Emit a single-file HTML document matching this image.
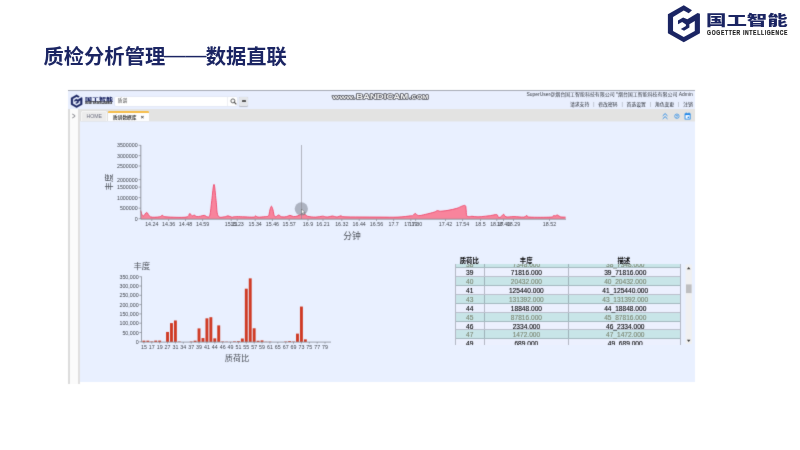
<!DOCTYPE html>
<html lang="zh">
<head>
<meta charset="utf-8">
<title>质检分析管理——数据直联</title>
<style>
html,body{margin:0;padding:0}
body{width:800px;height:450px;position:relative;overflow:hidden;background:#fff;font-family:"Liberation Sans","Noto Sans CJK SC",sans-serif;color:#222}
.abs{position:absolute}
.soft{filter:url(#bl)}
#title{left:43.5px;top:41.6px;font-size:20.3px;font-weight:bold;color:#1b2563;white-space:nowrap;line-height:30px;letter-spacing:0px}
#logo-cn{left:706.0px;top:8.1px;font-size:13.6px;line-height:26px;font-weight:900;color:#1b2563;white-space:nowrap;transform-origin:0 50%;transform:scaleX(1.5)}
#app{left:68px;top:90px;width:627px;height:294px;background:#fff;overflow:hidden}
#app .content{left:12px;top:31px;width:615px;height:261px;background:#e9f0ff;border-top:1px solid #e6eaf2;box-sizing:border-box}
#app .hdr{left:0;top:0;width:627px;height:19px;background:#e9effe;border-top:1px solid #a6aab4;box-sizing:border-box}
#app .tabs{left:0;top:19px;width:627px;height:12px;background:#e3e3e2}
#app .side{left:0;top:19px;width:12px;height:275px;background:linear-gradient(to right,#dcdcdc 0,#dcdcdc 1.6px,#fbfbfb 1.6px,#fbfbfb 10px,#e0dfdf 10px,#e0dfdf 12px)}

.s-cn{left:16.5px;top:5.0px;font-size:4.2px;line-height:9px;font-weight:900;color:#1b2563;white-space:nowrap;transform-origin:0 50%;transform:scaleX(1.68)}
.s-en{left:16.6px;top:12.4px;font-size:2.7px;line-height:3px;font-weight:bold;color:#333;white-space:nowrap;transform-origin:0 50%;transform:scaleX(0.76);text-shadow:0 0 0.3px #666}
.search{left:47px;top:6.8px;width:122px;height:9.2px;background:#fff;border-radius:1px;box-shadow:0 0 0 0.5px #dfe3ee}
.search span{position:absolute;left:2.8px;top:1.7px;font-size:4.8px;line-height:6px;color:#444}
.sbtn{left:171.3px;top:6.5px;width:9px;height:9px;background:#e4e6ea;border-radius:1.2px;box-shadow:0 0.6px 0.8px #b8bcc6}
.sbtn i{position:absolute;left:2.4px;top:3.5px;width:4.4px;height:1.7px;background:#555;border-radius:0.5px}
.u1,.u2{right:2.2px;font-size:4.96px;line-height:8px;color:#363a42;white-space:nowrap;text-align:right}
.u1{top:1.0px}
.u2{top:10.5px;color:#262a32;font-size:4.82px}
.u2 b{font-weight:normal;color:#8a8e98;margin:0 3.9px}
.arrow{left:3.0px;top:21.2px;font-size:9.5px;line-height:9px;font-weight:bold;color:#8c8c92;font-family:"Liberation Sans",sans-serif;transform:scaleX(0.62)}
.tab1{left:13.4px;top:21.2px;width:25.8px;height:10.2px;background:#ececec;border:0.6px solid #f6f6f6;border-bottom:none;border-radius:1.2px 1.2px 0 0;box-sizing:border-box;font-size:5.2px;line-height:8.6px;text-align:center;color:#6e7080;box-shadow:0 0 0.8px #bbb}
.tab2{left:40px;top:20.6px;width:40.6px;height:10.8px;background:#fefefe;border-top:2.1px solid #f6bd48;border-radius:1.2px 1.2px 0 0;box-sizing:border-box;font-size:4.7px;line-height:9.6px;color:#222;font-weight:500;white-space:nowrap}
.tab2 span{position:absolute;left:5px;top:0.6px}
.tab2 em{position:absolute;left:32.8px;top:0.4px;font-style:normal;font-weight:bold;font-size:5.6px;color:#333}
svg text{font-family:"Liberation Sans","Noto Sans CJK SC",sans-serif}
.tk{font-size:5.3px;fill:#41454d}
.ax{font-size:8.4px;fill:#4c5058}
#tbl{left:454.6px;top:264.2px;width:226.6px;height:80.8px;overflow:hidden;border-left:1px solid rgba(100,104,116,0.42);border-right:1px solid rgba(100,104,116,0.42);box-sizing:border-box;background:#ecf0fe}
#tbl .inner{position:absolute;left:0;top:-4.6px;width:100%}
.tr{position:relative;height:8.86px;line-height:10.4px;font-size:6.6px;color:#000;-webkit-text-stroke:0.1px currentColor;border-bottom:1px solid rgba(100,108,120,0.36);box-sizing:border-box;white-space:nowrap}
.tr.alt{background:#c8e5e8;color:#79836f}
.tr span{position:absolute;top:0;text-align:center;height:100%;z-index:1}
.c1{left:0;width:29.4px;border-right:1px solid rgba(100,104,116,0.42);box-sizing:border-box}
.c2{left:29.4px;width:83.8px;border-right:1px solid rgba(100,104,116,0.42);box-sizing:border-box}
.c3{left:113.2px;width:113px}
.th{font-size:6.4px;font-weight:bold;color:#000;line-height:9px;white-space:nowrap;transform:translateX(-50%)}
.sb{left:685.4px;top:264.3px;width:6.6px;height:79.8px;background:#f0f0f1}
.sb .thumb{position:absolute;left:0.5px;top:20.1px;width:5.7px;height:8.7px;background:#bebec0}
.sb .up,.sb .dn{position:absolute;left:1.4px;width:0;height:0;border-left:1.9px solid transparent;border-right:1.9px solid transparent}
.sb .up{top:2.6px;border-bottom:2.3px solid #3c3c3c}
.sb .dn{bottom:2.3px;border-top:2.3px solid #3c3c3c}
</style>
</head>
<body>
<svg width="0" height="0" style="position:absolute"><filter id="bl" x="0" y="0" width="100%" height="100%" color-interpolation-filters="sRGB"><feConvolveMatrix order="3" kernelMatrix="1 4 1 4 34 4 1 4 1" divisor="54" edgeMode="duplicate" preserveAlpha="true"/></filter></svg>
<div id="title" class="abs">质检分析管理<span style="display:inline-block;position:relative;top:-1.0px;transform:scale(1.05,0.72)">——</span>数据直联</div>

<svg class="abs" style="left:0;top:0" width="800" height="50" viewBox="0 0 800 50"><path d="M683.77,5.27 L691.99,10.22 L688.72,13.21 L683.77,10.59 L673.04,16.94 L673.04,30.95 L683.77,37.02 L694.79,30.95 L694.79,20.96 L689.38,24.22 L689.38,27.40 L684.05,30.76 L680.79,28.89 L685.92,26.09 L685.92,24.41 L682.19,22.08 L677.98,24.22 L677.98,20.40 L683.12,17.41 L687.32,19.28 L697.59,13.02 L699.93,13.67 L699.93,33.28 L683.77,42.15 L667.90,33.28 L667.90,14.14Z" fill="#1b2563"/></svg>
<div id="logo-cn" class="abs">国工智能</div>
<svg class="abs" style="left:700px;top:26px" width="100" height="14" viewBox="0 0 100 14"><text x="7.1" y="8.7" textLength="81" lengthAdjust="spacingAndGlyphs" style="font-size:6.6px;font-weight:bold;fill:#1a1a1a;stroke:#1a1a1a;stroke-width:0.22px;letter-spacing:0.9px">GOGETTER INTELLIGENCE</text></svg>

<div id="soft" class="abs soft" style="left:0;top:84px;width:800px;height:310px;overflow:hidden;background:#fff"><div style="position:absolute;left:0;top:-84px;width:800px;height:450px">
<div id="app" class="abs">
  <div class="hdr abs"></div>
  <div class="tabs abs"></div>
  <div class="content abs"></div>
  <div class="side abs"></div>
  <svg class="abs" style="left:0;top:0" width="60" height="20" viewBox="0 0 60 20"><path d="M8.57,4.80 L11.43,6.52 L10.30,7.56 L8.57,6.65 L4.84,8.86 L4.84,13.74 L8.57,15.85 L12.41,13.74 L12.41,10.26 L10.53,11.40 L10.53,12.50 L8.67,13.67 L7.54,13.02 L9.32,12.05 L9.32,11.46 L8.02,10.65 L6.56,11.40 L6.56,10.07 L8.35,9.03 L9.81,9.68 L13.39,7.50 L14.20,7.72 L14.20,14.55 L8.57,17.64 L3.05,14.55 L3.05,7.89Z" fill="#1b2563" stroke="#1b2563" stroke-width="0.35" stroke-linejoin="round"/></svg>
  <div class="s-cn abs">国工智能</div>
  <div class="s-en abs">GOGETTER INTELLIGENCE</div>
  <div class="search abs"><span>质谱</span>
    <svg class="abs" style="left:114.6px;top:1.1px" width="7" height="7" viewBox="0 0 7 7"><circle cx="2.9" cy="2.9" r="2.0" fill="none" stroke="#555" stroke-width="0.9"/><path d="M4.2,4.2 L6,6" stroke="#555" stroke-width="1.1" stroke-linecap="round"/></svg>
    <i class="abs" style="left:112.4px;top:0;width:0.5px;height:9.2px;background:#eef0f4"></i>
  </div>
  <div class="sbtn abs"><i></i></div>
  <div class="u1 abs">SuperUser@烟台国工智能科技有限公司 *烟台国工智能科技有限公司 Admin</div>
  <div class="u2 abs">请求支持<b>|</b>修改密码<b>|</b>首选设置<b>|</b>角色变更<b>|</b>注销</div>
  <div class="arrow abs">&gt;</div>
  <div class="tab1 abs">HOME</div>
  <div class="tab2 abs"><span>质谱数据库</span><em>×</em></div>
  <svg class="abs" style="left:590px;top:20px" width="36" height="12" viewBox="0 0 36 12">
    <path d="M5,5.6 L7.1,3.6 L9.2,5.6 M5,8.6 L7.1,6.6 L9.2,8.6" fill="none" stroke="#1f86e8" stroke-width="0.9" stroke-linecap="round" stroke-linejoin="round"/>
    <circle cx="18.9" cy="6.2" r="2.2" fill="none" stroke="#1f86e8" stroke-width="0.7"/>
    <text x="18.9" y="7.6" text-anchor="middle" style="font-size:3.6px;font-weight:bold;fill:#1f86e8">?</text>
    <rect x="26.6" y="3.2" width="6" height="6.4" rx="0.7" fill="#1f86e8"/>
    <rect x="27.5" y="5.1" width="4.2" height="3.6" fill="#fff"/>
    <rect x="29.6" y="6.6" width="1.5" height="1.5" fill="#1f86e8"/>
    <rect x="27.8" y="2.5" width="0.8" height="1.4" fill="#1f86e8"/><rect x="30.6" y="2.5" width="0.8" height="1.4" fill="#1f86e8"/>
  </svg>
</div>

<svg class="abs" style="left:0;top:0" width="800" height="110" viewBox="0 0 800 110">
<g font-weight="bold" fill="#fdfdfd" stroke="#50525a" stroke-width="1.3" stroke-linejoin="round" paint-order="stroke" style="font-family:'Liberation Sans',sans-serif">
<text x="332.6" y="98.7" textLength="22.6" lengthAdjust="spacingAndGlyphs" font-size="6.2">www.</text>
<text x="356.2" y="98.7" textLength="52" lengthAdjust="spacingAndGlyphs" font-size="6.6">BANDICAM</text>
<text x="409.4" y="98.7" textLength="19" lengthAdjust="spacingAndGlyphs" font-size="5.2">.COM</text>
</g></svg>
<svg class="abs" style="left:0;top:0" width="800" height="450" viewBox="0 0 800 450">
<g id="chart-top">
<path d="M140.75,210.60 C141.16,211.61 141.92,215.86 143.00,216.20 C144.08,216.54 145.40,212.38 146.75,212.50 C148.10,212.62 148.25,216.07 150.50,216.85 C152.75,217.63 157.11,217.12 159.25,216.85 C161.39,216.58 161.19,215.35 162.40,215.35 C163.62,215.35 161.75,216.53 166.00,216.85 C170.25,217.16 181.77,217.67 186.00,217.10 C190.23,216.53 188.35,213.92 189.50,213.70 C190.65,213.47 191.55,215.60 192.40,215.85 C193.25,216.10 193.47,214.97 194.25,215.10 C195.03,215.23 195.62,216.40 196.75,216.60 C197.88,216.80 199.15,216.42 200.50,216.20 C201.85,215.97 203.01,215.23 204.25,215.35 C205.49,215.47 206.38,216.91 207.40,216.85 C208.42,216.79 209.12,217.93 209.90,215.00 C210.68,212.07 211.01,206.12 211.75,200.60 C212.49,195.08 213.22,184.35 214.00,184.35 C214.78,184.35 215.38,194.97 216.10,200.60 C216.82,206.22 216.53,212.67 218.00,215.60 C219.47,218.53 222.45,216.81 224.25,216.85 C226.05,216.89 226.65,215.81 228.00,215.85 C229.35,215.89 230.18,216.97 231.75,217.10 C233.32,217.23 232.93,216.60 236.75,216.60 C240.57,216.60 249.62,217.23 253.00,217.10 C256.38,216.97 254.60,215.85 255.50,215.85 C256.40,215.85 256.20,216.97 258.00,217.10 C259.80,217.23 263.59,216.87 265.50,216.60 C267.41,216.33 267.81,216.79 268.60,215.60 C269.39,214.41 269.40,211.69 269.90,210.00 C270.40,208.31 270.84,206.20 271.40,206.20 C271.96,206.20 272.49,208.31 273.00,210.00 C273.51,211.69 273.69,214.41 274.25,215.60 C274.81,216.79 275.32,216.71 276.10,216.60 C276.88,216.49 277.58,214.96 278.60,215.00 C279.62,215.04 280.28,216.56 281.75,216.85 C283.22,217.14 285.28,216.87 286.75,216.60 C288.22,216.33 288.67,215.35 289.90,215.35 C291.13,215.35 292.14,216.51 293.60,216.60 C295.06,216.69 296.65,216.30 298.00,215.85 C299.35,215.40 300.20,214.32 301.10,214.10 C302.00,213.88 302.32,214.60 303.00,214.60 C303.68,214.60 304.11,213.81 304.90,214.10 C305.69,214.39 305.49,215.66 307.40,216.20 C309.31,216.74 312.80,217.10 315.50,217.10 C318.20,217.10 320.51,216.24 322.40,216.20 C324.29,216.16 324.81,216.79 326.00,216.90 C327.19,217.01 327.85,216.96 329.00,216.80 C330.15,216.64 331.14,215.98 332.40,216.00 C333.66,216.02 334.99,216.76 336.00,216.90 C337.01,217.04 337.10,216.99 338.00,216.80 C338.90,216.61 339.92,215.85 341.00,215.85 C342.08,215.85 340.58,216.59 344.00,216.80 C347.42,217.01 353.52,216.95 360.00,217.00 C366.48,217.05 373.16,217.08 380.00,217.10 C386.84,217.12 392.51,217.32 398.00,217.10 C403.49,216.88 407.80,216.16 410.50,215.85 C413.20,215.54 412.14,215.82 413.00,215.40 C413.86,214.98 414.24,213.46 415.25,213.50 C416.26,213.54 416.75,215.45 418.60,215.60 C420.45,215.75 422.68,214.98 425.50,214.35 C428.32,213.72 432.11,212.78 434.25,212.10 C436.39,211.42 436.27,210.76 437.40,210.60 C438.52,210.44 438.59,211.24 440.50,211.20 C442.41,211.16 445.07,210.86 448.00,210.35 C450.93,209.84 454.27,209.10 456.75,208.35 C459.23,207.60 460.22,206.69 461.75,206.20 C463.28,205.70 464.47,205.03 465.25,205.60 C466.03,206.17 465.83,207.55 466.10,209.35 C466.37,211.15 466.18,214.29 466.75,215.60 C467.32,216.91 468.31,216.47 469.25,216.60 C470.19,216.73 470.43,216.25 472.00,216.30 C473.57,216.34 475.57,216.87 478.00,216.85 C480.43,216.83 483.25,216.42 485.50,216.20 C487.75,215.97 488.48,215.89 490.50,215.60 C492.52,215.31 495.40,214.38 496.75,214.60 C498.10,214.82 497.32,216.40 498.00,216.85 C498.68,217.30 499.49,217.55 500.50,217.10 C501.51,216.65 502.59,214.39 503.60,214.35 C504.61,214.31 504.23,216.44 506.10,216.85 C507.97,217.25 510.85,216.56 514.00,216.60 C517.15,216.64 521.31,217.28 523.60,217.10 C525.89,216.92 525.62,215.60 526.75,215.60 C527.88,215.60 525.62,216.83 529.90,217.10 C534.17,217.37 546.23,217.37 550.50,217.10 C554.77,216.83 552.70,215.83 553.60,215.60 C554.50,215.37 554.82,215.91 555.50,215.80 C556.18,215.69 556.50,214.81 557.40,215.00 C558.30,215.19 559.04,216.47 560.50,216.85 C561.96,217.23 564.60,217.06 565.50,217.10 L565.50,219.00 L140.75,219.00 Z" fill="#f8849c"/>
<path d="M140.75,210.60 C141.16,211.61 141.92,215.86 143.00,216.20 C144.08,216.54 145.40,212.38 146.75,212.50 C148.10,212.62 148.25,216.07 150.50,216.85 C152.75,217.63 157.11,217.12 159.25,216.85 C161.39,216.58 161.19,215.35 162.40,215.35 C163.62,215.35 161.75,216.53 166.00,216.85 C170.25,217.16 181.77,217.67 186.00,217.10 C190.23,216.53 188.35,213.92 189.50,213.70 C190.65,213.47 191.55,215.60 192.40,215.85 C193.25,216.10 193.47,214.97 194.25,215.10 C195.03,215.23 195.62,216.40 196.75,216.60 C197.88,216.80 199.15,216.42 200.50,216.20 C201.85,215.97 203.01,215.23 204.25,215.35 C205.49,215.47 206.38,216.91 207.40,216.85 C208.42,216.79 209.12,217.93 209.90,215.00 C210.68,212.07 211.01,206.12 211.75,200.60 C212.49,195.08 213.22,184.35 214.00,184.35 C214.78,184.35 215.38,194.97 216.10,200.60 C216.82,206.22 216.53,212.67 218.00,215.60 C219.47,218.53 222.45,216.81 224.25,216.85 C226.05,216.89 226.65,215.81 228.00,215.85 C229.35,215.89 230.18,216.97 231.75,217.10 C233.32,217.23 232.93,216.60 236.75,216.60 C240.57,216.60 249.62,217.23 253.00,217.10 C256.38,216.97 254.60,215.85 255.50,215.85 C256.40,215.85 256.20,216.97 258.00,217.10 C259.80,217.23 263.59,216.87 265.50,216.60 C267.41,216.33 267.81,216.79 268.60,215.60 C269.39,214.41 269.40,211.69 269.90,210.00 C270.40,208.31 270.84,206.20 271.40,206.20 C271.96,206.20 272.49,208.31 273.00,210.00 C273.51,211.69 273.69,214.41 274.25,215.60 C274.81,216.79 275.32,216.71 276.10,216.60 C276.88,216.49 277.58,214.96 278.60,215.00 C279.62,215.04 280.28,216.56 281.75,216.85 C283.22,217.14 285.28,216.87 286.75,216.60 C288.22,216.33 288.67,215.35 289.90,215.35 C291.13,215.35 292.14,216.51 293.60,216.60 C295.06,216.69 296.65,216.30 298.00,215.85 C299.35,215.40 300.20,214.32 301.10,214.10 C302.00,213.88 302.32,214.60 303.00,214.60 C303.68,214.60 304.11,213.81 304.90,214.10 C305.69,214.39 305.49,215.66 307.40,216.20 C309.31,216.74 312.80,217.10 315.50,217.10 C318.20,217.10 320.51,216.24 322.40,216.20 C324.29,216.16 324.81,216.79 326.00,216.90 C327.19,217.01 327.85,216.96 329.00,216.80 C330.15,216.64 331.14,215.98 332.40,216.00 C333.66,216.02 334.99,216.76 336.00,216.90 C337.01,217.04 337.10,216.99 338.00,216.80 C338.90,216.61 339.92,215.85 341.00,215.85 C342.08,215.85 340.58,216.59 344.00,216.80 C347.42,217.01 353.52,216.95 360.00,217.00 C366.48,217.05 373.16,217.08 380.00,217.10 C386.84,217.12 392.51,217.32 398.00,217.10 C403.49,216.88 407.80,216.16 410.50,215.85 C413.20,215.54 412.14,215.82 413.00,215.40 C413.86,214.98 414.24,213.46 415.25,213.50 C416.26,213.54 416.75,215.45 418.60,215.60 C420.45,215.75 422.68,214.98 425.50,214.35 C428.32,213.72 432.11,212.78 434.25,212.10 C436.39,211.42 436.27,210.76 437.40,210.60 C438.52,210.44 438.59,211.24 440.50,211.20 C442.41,211.16 445.07,210.86 448.00,210.35 C450.93,209.84 454.27,209.10 456.75,208.35 C459.23,207.60 460.22,206.69 461.75,206.20 C463.28,205.70 464.47,205.03 465.25,205.60 C466.03,206.17 465.83,207.55 466.10,209.35 C466.37,211.15 466.18,214.29 466.75,215.60 C467.32,216.91 468.31,216.47 469.25,216.60 C470.19,216.73 470.43,216.25 472.00,216.30 C473.57,216.34 475.57,216.87 478.00,216.85 C480.43,216.83 483.25,216.42 485.50,216.20 C487.75,215.97 488.48,215.89 490.50,215.60 C492.52,215.31 495.40,214.38 496.75,214.60 C498.10,214.82 497.32,216.40 498.00,216.85 C498.68,217.30 499.49,217.55 500.50,217.10 C501.51,216.65 502.59,214.39 503.60,214.35 C504.61,214.31 504.23,216.44 506.10,216.85 C507.97,217.25 510.85,216.56 514.00,216.60 C517.15,216.64 521.31,217.28 523.60,217.10 C525.89,216.92 525.62,215.60 526.75,215.60 C527.88,215.60 525.62,216.83 529.90,217.10 C534.17,217.37 546.23,217.37 550.50,217.10 C554.77,216.83 552.70,215.83 553.60,215.60 C554.50,215.37 554.82,215.91 555.50,215.80 C556.18,215.69 556.50,214.81 557.40,215.00 C558.30,215.19 559.04,216.47 560.50,216.85 C561.96,217.23 564.60,217.06 565.50,217.10" fill="none" stroke="#ee4a6c" stroke-width="0.9"/>
<path d="M140.8,145 V219.2 H566" fill="none" stroke="#7c8088" stroke-width="0.8"/>
<path d="M138.6,145.3 H140.8" stroke="#7c8088" stroke-width="0.6"/>
<text x="137.6" y="147.3" text-anchor="end" class="tk">3500000</text>
<path d="M138.6,155.6 H140.8" stroke="#7c8088" stroke-width="0.6"/>
<text x="137.6" y="157.6" text-anchor="end" class="tk">3000000</text>
<path d="M138.6,166.0 H140.8" stroke="#7c8088" stroke-width="0.6"/>
<text x="137.6" y="168.0" text-anchor="end" class="tk">2500000</text>
<path d="M138.6,179.6 H140.8" stroke="#7c8088" stroke-width="0.6"/>
<text x="137.6" y="181.6" text-anchor="end" class="tk">2000000</text>
<path d="M138.6,187.1 H140.8" stroke="#7c8088" stroke-width="0.6"/>
<text x="137.6" y="189.1" text-anchor="end" class="tk">1500000</text>
<path d="M138.6,197.6 H140.8" stroke="#7c8088" stroke-width="0.6"/>
<text x="137.6" y="199.6" text-anchor="end" class="tk">1000000</text>
<path d="M138.6,208.2 H140.8" stroke="#7c8088" stroke-width="0.6"/>
<text x="137.6" y="210.2" text-anchor="end" class="tk">500000</text>
<path d="M138.6,218.7 H140.8" stroke="#7c8088" stroke-width="0.6"/>
<text x="137.6" y="220.7" text-anchor="end" class="tk">0</text>
<path d="M151.8,219.2 V221" stroke="#7c8088" stroke-width="0.6"/>
<text x="151.8" y="226.2" text-anchor="middle" class="tk">14.24</text>
<path d="M168.6,219.2 V221" stroke="#7c8088" stroke-width="0.6"/>
<text x="168.6" y="226.2" text-anchor="middle" class="tk">14.36</text>
<path d="M185.5,219.2 V221" stroke="#7c8088" stroke-width="0.6"/>
<text x="185.5" y="226.2" text-anchor="middle" class="tk">14.48</text>
<path d="M202.6,219.2 V221" stroke="#7c8088" stroke-width="0.6"/>
<text x="202.6" y="226.2" text-anchor="middle" class="tk">14.59</text>
<path d="M231.2,219.2 V221" stroke="#7c8088" stroke-width="0.6"/>
<text x="231.2" y="226.2" text-anchor="middle" class="tk">15.11</text>
<path d="M237.2,219.2 V221" stroke="#7c8088" stroke-width="0.6"/>
<text x="237.2" y="226.2" text-anchor="middle" class="tk">15.23</text>
<path d="M255.2,219.2 V221" stroke="#7c8088" stroke-width="0.6"/>
<text x="255.2" y="226.2" text-anchor="middle" class="tk">15.34</text>
<path d="M272.4,219.2 V221" stroke="#7c8088" stroke-width="0.6"/>
<text x="272.4" y="226.2" text-anchor="middle" class="tk">15.46</text>
<path d="M289.2,219.2 V221" stroke="#7c8088" stroke-width="0.6"/>
<text x="289.2" y="226.2" text-anchor="middle" class="tk">15.57</text>
<path d="M308.0,219.2 V221" stroke="#7c8088" stroke-width="0.6"/>
<text x="308.0" y="226.2" text-anchor="middle" class="tk">16.9</text>
<path d="M323.0,219.2 V221" stroke="#7c8088" stroke-width="0.6"/>
<text x="323.0" y="226.2" text-anchor="middle" class="tk">16.21</text>
<path d="M341.8,219.2 V221" stroke="#7c8088" stroke-width="0.6"/>
<text x="341.8" y="226.2" text-anchor="middle" class="tk">16.32</text>
<path d="M359.2,219.2 V221" stroke="#7c8088" stroke-width="0.6"/>
<text x="359.2" y="226.2" text-anchor="middle" class="tk">16.44</text>
<path d="M376.5,219.2 V221" stroke="#7c8088" stroke-width="0.6"/>
<text x="376.5" y="226.2" text-anchor="middle" class="tk">16.56</text>
<path d="M393.6,219.2 V221" stroke="#7c8088" stroke-width="0.6"/>
<text x="393.6" y="226.2" text-anchor="middle" class="tk">17.7</text>
<path d="M410.8,219.2 V221" stroke="#7c8088" stroke-width="0.6"/>
<text x="410.8" y="226.2" text-anchor="middle" class="tk">17.19</text>
<path d="M415.6,219.2 V221" stroke="#7c8088" stroke-width="0.6"/>
<text x="415.6" y="226.2" text-anchor="middle" class="tk">17.30</text>
<path d="M445.5,219.2 V221" stroke="#7c8088" stroke-width="0.6"/>
<text x="445.5" y="226.2" text-anchor="middle" class="tk">17.42</text>
<path d="M462.6,219.2 V221" stroke="#7c8088" stroke-width="0.6"/>
<text x="462.6" y="226.2" text-anchor="middle" class="tk">17.54</text>
<path d="M480.5,219.2 V221" stroke="#7c8088" stroke-width="0.6"/>
<text x="480.5" y="226.2" text-anchor="middle" class="tk">18.5</text>
<path d="M496.8,219.2 V221" stroke="#7c8088" stroke-width="0.6"/>
<text x="496.8" y="226.2" text-anchor="middle" class="tk">18.17</text>
<path d="M503.5,219.2 V221" stroke="#7c8088" stroke-width="0.6"/>
<text x="503.5" y="226.2" text-anchor="middle" class="tk">18.40</text>
<path d="M513.5,219.2 V221" stroke="#7c8088" stroke-width="0.6"/>
<text x="513.5" y="226.2" text-anchor="middle" class="tk">18.29</text>
<path d="M549.5,219.2 V221" stroke="#7c8088" stroke-width="0.6"/>
<text x="549.5" y="226.2" text-anchor="middle" class="tk">18.52</text>
<text transform="translate(112.4,182) rotate(-90)" text-anchor="middle" class="ax">丰度</text>
<text x="352" y="238.7" text-anchor="middle" class="ax" style="font-size:8.8px">分钟</text>
<circle cx="301.3" cy="208.8" r="6.6" fill="#8c909e" fill-opacity="0.64"/>
<path d="M301.5,145 V219" stroke="#84848c" stroke-width="0.55"/>
<path d="M301.5,209.0 l0,5 l1.2,-1.1 l0.9,1.9 l0.8,-0.4 l-0.9,-1.8 l1.6,0 z" fill="#fff" stroke="#3a3a3a" stroke-width="0.4"/>
</g>
<g id="chart-bar">
<rect x="142.45" y="340.68" width="2.9" height="1.22" fill="#cf3a24"/>
<rect x="146.39" y="340.68" width="2.9" height="1.22" fill="#cf3a24"/>
<rect x="150.33" y="341.43" width="2.9" height="0.47" fill="#cf3a24"/>
<rect x="154.26" y="340.58" width="2.9" height="1.32" fill="#cf3a24"/>
<rect x="158.20" y="340.58" width="2.9" height="1.32" fill="#cf3a24"/>
<rect x="166.08" y="331.94" width="2.9" height="9.96" fill="#cf3a24"/>
<rect x="170.02" y="323.10" width="2.9" height="18.80" fill="#cf3a24"/>
<rect x="173.95" y="320.47" width="2.9" height="21.43" fill="#cf3a24"/>
<rect x="177.89" y="341.52" width="2.9" height="0.38" fill="#cf3a24"/>
<rect x="189.71" y="341.52" width="2.9" height="0.38" fill="#cf3a24"/>
<rect x="193.64" y="340.68" width="2.9" height="1.22" fill="#cf3a24"/>
<rect x="197.58" y="328.40" width="2.9" height="13.50" fill="#cf3a24"/>
<rect x="201.52" y="338.06" width="2.9" height="3.84" fill="#cf3a24"/>
<rect x="205.46" y="318.32" width="2.9" height="23.58" fill="#cf3a24"/>
<rect x="209.40" y="317.20" width="2.9" height="24.70" fill="#cf3a24"/>
<rect x="213.33" y="338.36" width="2.9" height="3.54" fill="#cf3a24"/>
<rect x="217.27" y="325.39" width="2.9" height="16.51" fill="#cf3a24"/>
<rect x="221.21" y="341.46" width="2.9" height="0.44" fill="#cf3a24"/>
<rect x="225.15" y="341.62" width="2.9" height="0.28" fill="#cf3a24"/>
<rect x="229.09" y="341.77" width="2.9" height="0.13" fill="#cf3a24"/>
<rect x="233.02" y="341.34" width="2.9" height="0.56" fill="#cf3a24"/>
<rect x="236.96" y="341.15" width="2.9" height="0.75" fill="#cf3a24"/>
<rect x="240.90" y="338.52" width="2.9" height="3.38" fill="#cf3a24"/>
<rect x="244.84" y="288.70" width="2.9" height="53.20" fill="#cf3a24"/>
<rect x="248.78" y="278.36" width="2.9" height="63.54" fill="#cf3a24"/>
<rect x="252.71" y="328.27" width="2.9" height="13.63" fill="#cf3a24"/>
<rect x="256.65" y="340.77" width="2.9" height="1.13" fill="#cf3a24"/>
<rect x="260.59" y="340.40" width="2.9" height="1.50" fill="#cf3a24"/>
<rect x="264.53" y="341.67" width="2.9" height="0.23" fill="#cf3a24"/>
<rect x="268.47" y="341.62" width="2.9" height="0.28" fill="#cf3a24"/>
<rect x="284.22" y="341.52" width="2.9" height="0.38" fill="#cf3a24"/>
<rect x="288.16" y="341.05" width="2.9" height="0.85" fill="#cf3a24"/>
<rect x="292.09" y="341.52" width="2.9" height="0.38" fill="#cf3a24"/>
<rect x="296.03" y="333.63" width="2.9" height="8.27" fill="#cf3a24"/>
<rect x="299.97" y="306.56" width="2.9" height="35.34" fill="#cf3a24"/>
<rect x="303.91" y="339.36" width="2.9" height="2.54" fill="#cf3a24"/>
<path d="M141.5,276.5 V342.1 H331" fill="none" stroke="#7a7e86" stroke-width="0.7"/>
<path d="M139.4,341.8 H141.4" stroke="#70747c" stroke-width="0.6"/>
<text x="138.6" y="343.8" text-anchor="end" class="tk">0</text>
<path d="M139.4,332.5 H141.4" stroke="#70747c" stroke-width="0.6"/>
<text x="138.6" y="334.5" text-anchor="end" class="tk">50,000</text>
<path d="M139.4,323.2 H141.4" stroke="#70747c" stroke-width="0.6"/>
<text x="138.6" y="325.2" text-anchor="end" class="tk">100,000</text>
<path d="M139.4,313.9 H141.4" stroke="#70747c" stroke-width="0.6"/>
<text x="138.6" y="315.9" text-anchor="end" class="tk">150,000</text>
<path d="M139.4,304.6 H141.4" stroke="#70747c" stroke-width="0.6"/>
<text x="138.6" y="306.6" text-anchor="end" class="tk">200,000</text>
<path d="M139.4,295.3 H141.4" stroke="#70747c" stroke-width="0.6"/>
<text x="138.6" y="297.3" text-anchor="end" class="tk">250,000</text>
<path d="M139.4,286.0 H141.4" stroke="#70747c" stroke-width="0.6"/>
<text x="138.6" y="288.0" text-anchor="end" class="tk">300,000</text>
<path d="M139.4,276.7 H141.4" stroke="#70747c" stroke-width="0.6"/>
<text x="138.6" y="278.7" text-anchor="end" class="tk">350,000</text>
<path d="M143.9,342.1 V343.6" stroke="#70747c" stroke-width="0.6"/>
<text x="143.9" y="348.9" text-anchor="middle" class="tk">15</text>
<path d="M151.8,342.1 V343.6" stroke="#70747c" stroke-width="0.6"/>
<text x="151.8" y="348.9" text-anchor="middle" class="tk">17</text>
<path d="M159.7,342.1 V343.6" stroke="#70747c" stroke-width="0.6"/>
<text x="159.7" y="348.9" text-anchor="middle" class="tk">19</text>
<path d="M167.5,342.1 V343.6" stroke="#70747c" stroke-width="0.6"/>
<text x="167.5" y="348.9" text-anchor="middle" class="tk">27</text>
<path d="M175.4,342.1 V343.6" stroke="#70747c" stroke-width="0.6"/>
<text x="175.4" y="348.9" text-anchor="middle" class="tk">31</text>
<path d="M183.3,342.1 V343.6" stroke="#70747c" stroke-width="0.6"/>
<text x="183.3" y="348.9" text-anchor="middle" class="tk">34</text>
<path d="M191.2,342.1 V343.6" stroke="#70747c" stroke-width="0.6"/>
<text x="191.2" y="348.9" text-anchor="middle" class="tk">37</text>
<path d="M199.0,342.1 V343.6" stroke="#70747c" stroke-width="0.6"/>
<text x="199.0" y="348.9" text-anchor="middle" class="tk">39</text>
<path d="M206.9,342.1 V343.6" stroke="#70747c" stroke-width="0.6"/>
<text x="206.9" y="348.9" text-anchor="middle" class="tk">41</text>
<path d="M214.8,342.1 V343.6" stroke="#70747c" stroke-width="0.6"/>
<text x="214.8" y="348.9" text-anchor="middle" class="tk">44</text>
<path d="M222.7,342.1 V343.6" stroke="#70747c" stroke-width="0.6"/>
<text x="222.7" y="348.9" text-anchor="middle" class="tk">46</text>
<path d="M230.5,342.1 V343.6" stroke="#70747c" stroke-width="0.6"/>
<text x="230.5" y="348.9" text-anchor="middle" class="tk">49</text>
<path d="M238.4,342.1 V343.6" stroke="#70747c" stroke-width="0.6"/>
<text x="238.4" y="348.9" text-anchor="middle" class="tk">51</text>
<path d="M246.3,342.1 V343.6" stroke="#70747c" stroke-width="0.6"/>
<text x="246.3" y="348.9" text-anchor="middle" class="tk">55</text>
<path d="M254.2,342.1 V343.6" stroke="#70747c" stroke-width="0.6"/>
<text x="254.2" y="348.9" text-anchor="middle" class="tk">57</text>
<path d="M262.0,342.1 V343.6" stroke="#70747c" stroke-width="0.6"/>
<text x="262.0" y="348.9" text-anchor="middle" class="tk">59</text>
<path d="M269.9,342.1 V343.6" stroke="#70747c" stroke-width="0.6"/>
<text x="269.9" y="348.9" text-anchor="middle" class="tk">61</text>
<path d="M277.8,342.1 V343.6" stroke="#70747c" stroke-width="0.6"/>
<text x="277.8" y="348.9" text-anchor="middle" class="tk">65</text>
<path d="M285.7,342.1 V343.6" stroke="#70747c" stroke-width="0.6"/>
<text x="285.7" y="348.9" text-anchor="middle" class="tk">67</text>
<path d="M293.5,342.1 V343.6" stroke="#70747c" stroke-width="0.6"/>
<text x="293.5" y="348.9" text-anchor="middle" class="tk">69</text>
<path d="M301.4,342.1 V343.6" stroke="#70747c" stroke-width="0.6"/>
<text x="301.4" y="348.9" text-anchor="middle" class="tk">73</text>
<path d="M309.3,342.1 V343.6" stroke="#70747c" stroke-width="0.6"/>
<text x="309.3" y="348.9" text-anchor="middle" class="tk">75</text>
<path d="M317.2,342.1 V343.6" stroke="#70747c" stroke-width="0.6"/>
<text x="317.2" y="348.9" text-anchor="middle" class="tk">77</text>
<path d="M325.0,342.1 V343.6" stroke="#70747c" stroke-width="0.6"/>
<text x="325.0" y="348.9" text-anchor="middle" class="tk">79</text>
<text x="141.8" y="269" text-anchor="middle" class="ax">丰度</text>
<text x="237" y="360.9" text-anchor="middle" class="ax" style="font-size:8.2px">质荷比</text>
</g>
</svg>

<div class="th abs" style="left:469.3px;top:255.8px">质荷比</div>
<div class="th abs" style="left:526.2px;top:255.8px">丰度</div>
<div class="th abs" style="left:623.8px;top:255.8px">描述</div>
<div id="tbl" class="abs"><div class="inner">
<div class="tr alt"><span class="c1">38</span><span class="c2">7348.000</span><span class="c3">38_7348.000</span></div>
<div class="tr "><span class="c1">39</span><span class="c2">71816.000</span><span class="c3">39_71816.000</span></div>
<div class="tr alt"><span class="c1">40</span><span class="c2">20432.000</span><span class="c3">40_20432.000</span></div>
<div class="tr "><span class="c1">41</span><span class="c2">125440.000</span><span class="c3">41_125440.000</span></div>
<div class="tr alt"><span class="c1">43</span><span class="c2">131392.000</span><span class="c3">43_131392.000</span></div>
<div class="tr "><span class="c1">44</span><span class="c2">18848.000</span><span class="c3">44_18848.000</span></div>
<div class="tr alt"><span class="c1">45</span><span class="c2">87816.000</span><span class="c3">45_87816.000</span></div>
<div class="tr "><span class="c1">46</span><span class="c2">2334.000</span><span class="c3">46_2334.000</span></div>
<div class="tr alt"><span class="c1">47</span><span class="c2">1472.000</span><span class="c3">47_1472.000</span></div>
<div class="tr "><span class="c1">49</span><span class="c2">689.000</span><span class="c3">49_689.000</span></div>
</div></div>
<svg class="abs" style="left:680px;top:260px" width="16" height="90" viewBox="680 260 16 90"><rect x="685.5" y="264.4" width="6.4" height="79.6" fill="#f0f0f1"/><rect x="686" y="284.4" width="5.6" height="8.7" fill="#bebec0"/><path d="M686.9,269.2 L688.7,266.9 L690.5,269.2Z M686.9,339.8 L688.7,342.1 L690.5,339.8Z" fill="#383838"/></svg>
</div></div>
</body>
</html>
